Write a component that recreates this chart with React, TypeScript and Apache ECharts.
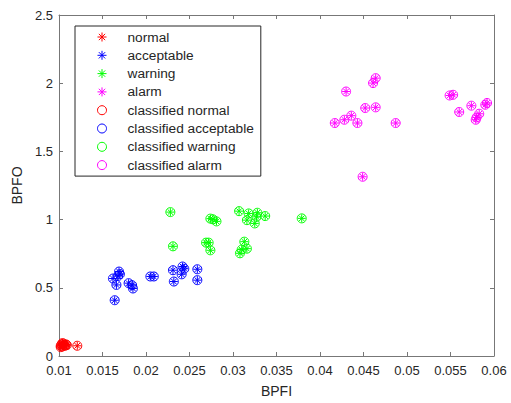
import React, { useEffect, useRef } from "react";
import * as echarts from "echarts";

// [BPFI, BPFO]
const normalPts: number[][] = [
  [0.0102, 0.075], [0.0103, 0.085], [0.0104, 0.07], [0.0105, 0.09], [0.0106, 0.08],
  [0.0107, 0.075], [0.0108, 0.085], [0.0109, 0.08], [0.0102, 0.065], [0.0104, 0.095],
  [0.0121, 0.075],
];
const acceptablePts: number[][] = [
  [0.0169, 0.619], [0.0168, 0.587], [0.0162, 0.568], [0.0166, 0.521], [0.0164, 0.409],
  [0.0170, 0.60], [0.0180, 0.534], [0.0184, 0.519], [0.0185, 0.495], [0.0205, 0.583],
  [0.0209, 0.583], [0.0231, 0.629], [0.0232, 0.546], [0.0242, 0.656], [0.0241, 0.599],
  [0.0244, 0.64], [0.0259, 0.636], [0.0259, 0.556],
];
const warningPts: number[][] = [
  [0.0228, 1.055], [0.0231, 0.804], [0.0274, 1.007], [0.0277, 1.002], [0.0281, 0.987],
  [0.0269, 0.831], [0.0272, 0.831], [0.0274, 0.775], [0.0307, 1.062], [0.0318, 1.045],
  [0.0328, 1.050], [0.0337, 1.026], [0.0316, 0.996], [0.0325, 0.972], [0.0327, 1.02],
  [0.0313, 0.838], [0.0316, 0.787], [0.0308, 0.753], [0.0310, 0.78], [0.0379, 1.009],
];
const alarmPts: number[][] = [
  [0.0464, 2.037], [0.0461, 2.001], [0.0430, 1.939], [0.0452, 1.818], [0.0464, 1.823],
  [0.0436, 1.762], [0.0428, 1.732], [0.0417, 1.708], [0.0443, 1.708], [0.0487, 1.708],
  [0.0449, 1.314], [0.0549, 1.910], [0.0553, 1.915], [0.0560, 1.789], [0.0574, 1.835],
  [0.0580, 1.749], [0.0583, 1.776], [0.0590, 1.842], [0.0592, 1.855], [0.0579, 1.732],
];

const classNames = ["normal", "acceptable", "warning", "alarm"];
const classColors = ["#ff0000", "#0000ff", "#00ff00", "#ff00ff"];
const classData = [normalPts, acceptablePts, warningPts, alarmPts];

const ASTERISK = "path://M5,0L5,10M0,5L10,5M1.5,1.5L8.5,8.5M1.5,8.5L8.5,1.5";
const FONT = "'Liberation Sans', Arial, Helvetica, sans-serif";
const AXIS_COLOR = "#777777";
const TEXT_COLOR = "#262626";

export default function App() {
  const ref = useRef<HTMLDivElement>(null);
  useEffect(() => {
    if (!ref.current) return;
    document.body.style.margin = "0";
    const chart = echarts.init(ref.current, undefined, { renderer: "svg" });
    const starSeries = classNames.map((n, i) => ({
      name: n,
      type: "scatter",
      data: classData[i],
      symbol: ASTERISK,
      symbolSize: 8,
      itemStyle: { color: "transparent", borderColor: classColors[i], borderWidth: 1, opacity: 1 },
      emphasis: { disabled: true },
    }));
    const circleSeries = classNames.map((n, i) => ({
      name: "classified " + n,
      type: "scatter",
      data: classData[i],
      symbol: "circle",
      symbolSize: 9,
      itemStyle: { color: "transparent", borderColor: classColors[i], borderWidth: 1, opacity: 1 },
      emphasis: { disabled: true },
    }));
    const axisCommon = {
      splitLine: { show: false },
      axisLine: { show: true, onZero: false, lineStyle: { color: AXIS_COLOR, width: 1 } },
      axisTick: { show: true, inside: true, length: 4, lineStyle: { color: AXIS_COLOR } },
    };
    chart.setOption({
      animation: false,
      grid: { left: 59, right: 17, top: 15, bottom: 46, containLabel: false },
      legend: {
        orient: "vertical",
        left: 75,
        top: 26,
        padding: [4, 7, 4, 22],
        itemWidth: 9,
        itemHeight: 9,
        itemGap: 4.3,
        backgroundColor: "#ffffff",
        borderColor: TEXT_COLOR,
        borderWidth: 1,
        borderRadius: 0,
        itemStyle: { borderWidth: 1 },
        textStyle: { fontSize: 13.7, color: TEXT_COLOR, fontFamily: FONT, padding: [0, 0, 0, 16] },
        data: [...classNames, ...classNames.map((n) => "classified " + n)],
      },
      xAxis: [
        {
          ...axisCommon,
          type: "value",
          min: 0.01,
          max: 0.06,
          interval: 0.005,
          name: "BPFI",
          nameLocation: "middle",
          nameGap: 28,
          nameTextStyle: { fontSize: 14, color: TEXT_COLOR, fontFamily: FONT },
          axisLabel: {
            fontSize: 13,
            color: TEXT_COLOR,
            fontFamily: FONT,
            margin: 8,
            formatter: (v: number) => String(+v.toFixed(3)),
          },
        },
        {
          ...axisCommon,
          type: "value",
          position: "top",
          min: 0.01,
          max: 0.06,
          interval: 0.005,
          axisLabel: { show: false },
        },
      ],
      yAxis: [
        {
          ...axisCommon,
          type: "value",
          min: 0,
          max: 2.5,
          interval: 0.5,
          name: "BPFO",
          nameLocation: "middle",
          nameGap: 33,
          nameTextStyle: { fontSize: 14, color: TEXT_COLOR, fontFamily: FONT },
          axisLabel: { fontSize: 13, color: TEXT_COLOR, fontFamily: FONT, margin: 6 },
        },
        {
          ...axisCommon,
          type: "value",
          position: "right",
          min: 0,
          max: 2.5,
          interval: 0.5,
          axisLabel: { show: false },
        },
      ],
      series: [...starSeries, ...circleSeries],
    });
    return () => chart.dispose();
  }, []);
  return <div ref={ref} style={{ width: 511, height: 403, position: "absolute", left: 0, top: 0 }} />;
}
